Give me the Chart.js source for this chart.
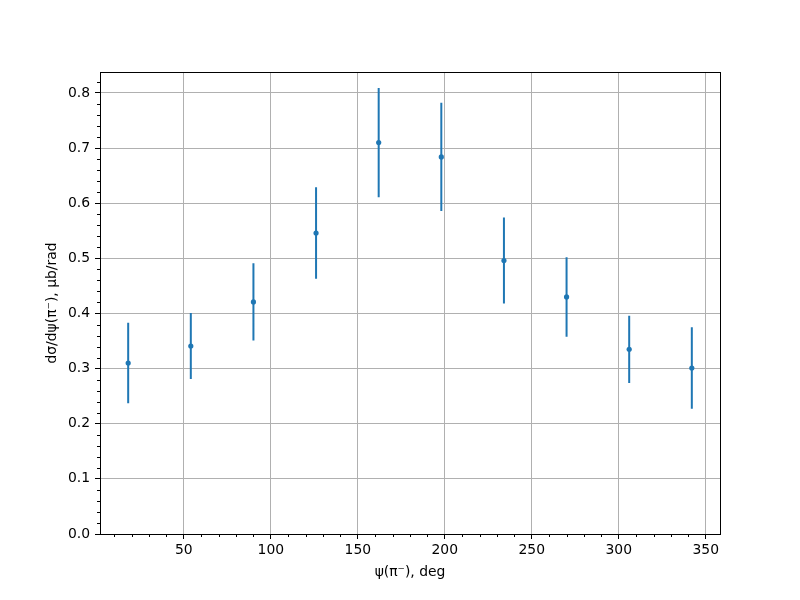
<!DOCTYPE html>
<html>
<head>
<meta charset="utf-8">
<script src="https://cdn.jsdelivr.net/npm/chart.js@4/dist/chart.umd.min.js"></script>
<style>
  html, body { margin: 0; padding: 0; background: #fff; }
  #wrap { width: 800px; height: 600px; }
</style>
</head>
<body>
<div id="wrap"><canvas id="psiChart" width="800" height="600"></canvas></div>
<script>
// values
const angles = [18, 54, 90, 126, 162, 198, 234, 270, 306, 342];
const crossSection = [0.310, 0.341, 0.421, 0.546, 0.710, 0.684, 0.496, 0.430, 0.335, 0.301];
const errors = [0.073, 0.060, 0.070, 0.083, 0.099, 0.098, 0.078, 0.072, 0.061, 0.074];

const xTicks = [50, 100, 150, 200, 250, 300, 350];
const yTicks = [0, 0.1, 0.2, 0.3, 0.4, 0.5, 0.6, 0.7, 0.8];
const xMinorTicks = [10, 20, 30, 40, 60, 70, 80, 90, 110, 120, 130, 140, 160, 170, 180, 190,
  210, 220, 230, 240, 260, 270, 280, 290, 310, 320, 330, 340];
const yMinorTicks = [0.02, 0.04, 0.06, 0.08, 0.12, 0.14, 0.16, 0.18, 0.22, 0.24, 0.26, 0.28,
  0.32, 0.34, 0.36, 0.38, 0.42, 0.44, 0.46, 0.48, 0.52, 0.54, 0.56, 0.58,
  0.62, 0.64, 0.66, 0.68, 0.72, 0.74, 0.76, 0.78, 0.82];

const blue = '#1f77b4';

Chart.defaults.font.family = '"DejaVu Sans", sans-serif';
Chart.defaults.font.size = 13.9;
Chart.defaults.color = '#000';

// error bars as broken line segments (null breaks the line)
const barPoints = [];
angles.forEach(function(a, i) {
  barPoints.push({ x: a, y: crossSection[i] - errors[i] });
  barPoints.push({ x: a, y: crossSection[i] + errors[i] });
  barPoints.push({ x: a, y: null });
});

// box round the plot + minor tick marks
const framePlugin = {
  id: 'frame',
  afterDraw(chart) {
    const ctx = chart.ctx;
    const area = chart.chartArea;
    const xs = chart.scales.x;
    const ys = chart.scales.y;
    ctx.save();
    ctx.strokeStyle = '#000';
    ctx.lineWidth = 1;
    ctx.beginPath();
    xMinorTicks.forEach(function(v) {
      const px = Math.round(xs.getPixelForValue(v)) + 0.5;
      ctx.moveTo(px, area.bottom);
      ctx.lineTo(px, area.bottom + 3);
    });
    yMinorTicks.forEach(function(v) {
      const py = Math.round(ys.getPixelForValue(v)) + 0.5;
      ctx.moveTo(area.left, py);
      ctx.lineTo(area.left - 3, py);
    });
    ctx.stroke();
    ctx.strokeRect(Math.round(area.left) + 0.5, Math.round(area.top) + 0.5,
      Math.round(area.right - area.left), Math.round(area.bottom - area.top));
    ctx.restore();
  }
};

new Chart(document.getElementById('psiChart'), {
  type: 'scatter',
  data: {
    datasets: [
      {
        label: 'errors',
        data: barPoints,
        showLine: true,
        spanGaps: false,
        borderColor: blue,
        borderWidth: 2,
        pointRadius: 0,
        borderCapStyle: 'butt'
      },
      {
        label: 'dσ/dψ',
        data: angles.map(function(a, i) { return { x: a, y: crossSection[i] }; }),
        backgroundColor: blue,
        borderColor: blue,
        pointRadius: 2.6,
        borderWidth: 0
      }
    ]
  },
  options: {
    responsive: false,
    animation: false,
    devicePixelRatio: 1,
    layout: { padding: { left: 0, right: 80, top: 72, bottom: 0 } },
    plugins: { legend: { display: false }, tooltip: { enabled: false } },
    scales: {
      x: {
        type: 'linear',
        min: 1.8,
        max: 358.2,
        afterBuildTicks: function(scale) { scale.ticks = xTicks.map(function(v) { return { value: v }; }); },
        afterFit: function(scale) { scale.height = 66; },
        ticks: { padding: 3, maxRotation: 0, autoSkip: false, color: '#000' },
        grid: { color: '#b0b0b0', lineWidth: 1, tickColor: '#000', tickLength: 5 },
        border: { display: false },
        title: {
          display: true,
          text: 'ψ(π⁻), deg',
          color: '#000',
          padding: { top: 0, bottom: 19 }
        }
      },
      y: {
        type: 'linear',
        min: 0,
        max: 0.838,
        afterBuildTicks: function(scale) { scale.ticks = yTicks.map(function(v) { return { value: v }; }); },
        afterFit: function(scale) { scale.width = 100; },
        ticks: {
          padding: 5,
          autoSkip: false,
          color: '#000',
          callback: function(v) { return v.toFixed(1); }
        },
        grid: { color: '#b0b0b0', lineWidth: 1, tickColor: '#000', tickLength: 5 },
        border: { display: false },
        title: {
          display: true,
          text: 'dσ/dψ(π⁻), μb/rad',
          color: '#000',
          padding: { top: 44, bottom: 0 }
        }
      }
    }
  },
  plugins: [framePlugin]
});
</script>
</body>
</html>
